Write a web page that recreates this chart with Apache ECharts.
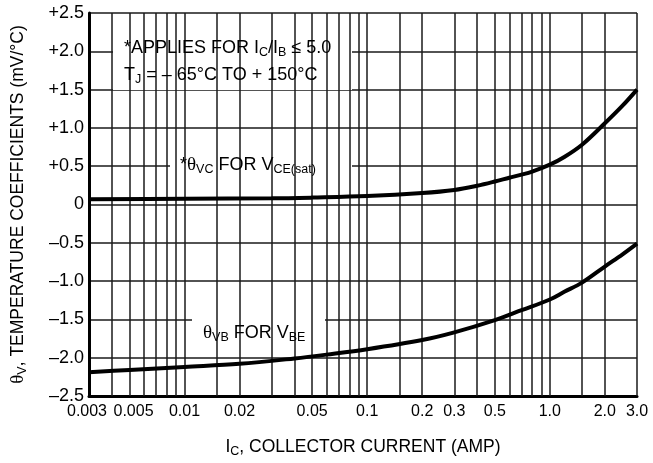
<!DOCTYPE html>
<html>
<head>
<meta charset="utf-8">
<script src="https://cdn.jsdelivr.net/npm/echarts@6/dist/echarts.min.js"></script>
<style>
  html, body { margin: 0; padding: 0; background: #fff; }
  #chart { width: 653px; height: 463px; }
</style>
</head>
<body>
<div id="chart"></div>
<script>
	// collector current (A) and temperature coefficients (mV/°C)
	var icVC = [0.003, 0.01, 0.03, 0.05, 0.1, 0.2, 0.3, 0.4, 0.5, 0.6, 0.7, 0.8, 1.0, 1.2, 1.5, 2.0, 2.5, 3.0];
	var thetaVC = [0.07, 0.075, 0.08, 0.09, 0.11, 0.15, 0.19, 0.245, 0.30, 0.35, 0.39, 0.43, 0.52, 0.62, 0.78, 1.06, 1.29, 1.50];

	var icVB = [0.003, 0.005, 0.01, 0.02, 0.04, 0.06, 0.1, 0.2, 0.3, 0.5, 0.7, 1.0, 1.2, 1.5, 2.0, 2.5, 3.0];
	var thetaVB = [-2.19, -2.16, -2.12, -2.08, -2.01, -1.96, -1.89, -1.77, -1.67, -1.51, -1.38, -1.24, -1.14, -1.02, -0.81, -0.65, -0.51];

	// x tick labels and the vertical grid of the log paper
	var xTickLabels = [0.003, 0.005, 0.01, 0.02, 0.05, 0.1, 0.2, 0.3, 0.5, 1.0, 2.0, 3.0];
	var xGridLines = [0.004, 0.005, 0.006, 0.007, 0.008, 0.009,
		0.01, 0.015, 0.02, 0.03, 0.04, 0.05, 0.06, 0.07, 0.08, 0.09,
		0.1, 0.15, 0.2, 0.3, 0.4, 0.5, 0.6, 0.7, 0.8, 0.9,
		1.0, 1.5, 2.0, 3.0];

	var FONT = '"Liberation Sans", Arial, sans-serif';
	var SERIF = '"Liberation Serif", "DejaVu Serif", serif';
	var GRID_COLOR = '#1a1a1a';

	function pairs(xs, ys) {
		var out = [];
		for (var i = 0; i < xs.length; i++) {
			out.push([xs[i], ys[i]]);
		}
		return out;
	}

	function xLabel(v) {
		var n = Number(v.toPrecision(3));
		var s = n >= 1 ? n.toFixed(1) : String(n);
		// the first two labels sit close together, push them apart a little
		if (n === 0.003) return '{l|' + s + '}';
		if (n === 0.005) return '{r|' + s + '}';
		return s;
	}

	function yLabel(v) {
		if (Math.abs(v) < 1e-9) return '0';
		return (v > 0 ? '+' : '\u2013') + Math.abs(v).toFixed(1);
	}

	var richCommon = {
		th: { fontFamily: SERIF, fontSize: 19, lineHeight: 22, color: '#000' },
		s: { fontFamily: FONT, fontSize: 12.5, lineHeight: 11, verticalAlign: 'bottom', color: '#000' }
	};

	var chart = echarts.init(document.getElementById('chart'), null, { renderer: 'canvas' });

	var option = {
		animation: false,
		backgroundColor: '#fff',
		grid: { left: 89, right: 16, top: 13, bottom: 67, containLabel: false, outerBoundsMode: 'none' },
		xAxis: {
			type: 'log',
			logBase: 10,
			min: 0.003,
			max: 3,
			axisLine: { show: true, onZero: false, lineStyle: { color: '#000', width: 3 } },
			axisTick: { show: false },
			splitLine: { show: false },
			axisLabel: {
				customValues: xTickLabels,
				formatter: xLabel,
				showMinLabel: true,
				showMaxLabel: true,
				hideOverlap: false,
				color: '#000',
				fontFamily: FONT,
				fontSize: 16,
				margin: 8,
				rich: {
					l: { fontFamily: FONT, fontSize: 16, color: '#000', padding: [0, 4, 0, 0] },
					r: { fontFamily: FONT, fontSize: 16, color: '#000', padding: [0, 0, 0, 8] }
				}
			},
			name: 'I{s|C}, COLLECTOR CURRENT (AMP)',
			nameLocation: 'middle',
			nameGap: 40,
			nameTextStyle: {
				color: '#000', fontFamily: FONT, fontSize: 17.5, lineHeight: 22,
				rich: richCommon
			}
		},
		yAxis: {
			type: 'value',
			min: -2.5,
			max: 2.5,
			interval: 0.5,
			axisLine: { show: true, onZero: false, lineStyle: { color: '#000', width: 3 } },
			axisTick: { show: false },
			splitLine: { show: true, lineStyle: { color: GRID_COLOR, width: 1.5 } },
			axisLabel: {
				formatter: yLabel,
				showMinLabel: true,
				showMaxLabel: true,
				color: '#000',
				fontFamily: FONT,
				fontSize: 18,
				margin: 5
			},
			name: '{th|\u03b8}{s|V}, TEMPERATURE COEFFICIENTS (mV/\u00b0C)',
			nameLocation: 'middle',
			nameRotate: 90,
			nameGap: 60,
			nameTextStyle: {
				color: '#000', fontFamily: FONT, fontSize: 17.5, lineHeight: 22,
				rich: richCommon
			}
		},
		series: [
			{
				// vertical lines of the log grid
				type: 'line',
				data: [],
				z: 1,
				silent: true,
				markLine: {
					silent: true,
					precision: 4,
					symbol: ['none', 'none'],
					label: { show: false },
					lineStyle: { color: GRID_COLOR, width: 1.5, type: 'solid' },
					emphasis: { disabled: true },
					data: xGridLines.map(function (v) { return { xAxis: v }; })
				}
			},
			{
				name: 'thetaVC',
				type: 'line',
				data: pairs(icVC, thetaVC),
				smooth: 0.35,
				showSymbol: false,
				z: 10,
				lineStyle: { color: '#000', width: 4 }
			},
			{
				name: 'thetaVB',
				type: 'line',
				data: pairs(icVB, thetaVB),
				smooth: 0.35,
				showSymbol: false,
				z: 10,
				lineStyle: { color: '#000', width: 4 }
			}
		],
		graphic: [
			// white patches behind the annotations
			{ type: 'rect', z: 5, shape: { x: 113, y: 26, width: 239, height: 64 }, style: { fill: '#fff' } },
			{ type: 'rect', z: 5, shape: { x: 170, y: 145, width: 182, height: 37 }, style: { fill: '#fff' } },
			{ type: 'rect', z: 5, shape: { x: 192, y: 313, width: 133, height: 39 }, style: { fill: '#fff' } },
			{
				type: 'text', z: 20, x: 124, y: 48,
				style: {
					text: '*APPLIES FOR I{s|C}/I{s|B} \u2264 5.0',
					fontFamily: FONT, fontSize: 18, lineHeight: 22, fill: '#000',
					verticalAlign: 'middle', rich: richCommon
				}
			},
			{
				type: 'text', z: 20, x: 124, y: 75,
				style: {
					text: 'T{s|J} = \u2013 65\u00b0C TO + 150\u00b0C',
					fontFamily: FONT, fontSize: 18, lineHeight: 22, fill: '#000',
					verticalAlign: 'middle', rich: richCommon
				}
			},
			{
				type: 'text', z: 20, x: 180, y: 165,
				style: {
					text: '*{th|\u03b8}{s|VC} FOR V{s|CE(sat)}',
					fontFamily: FONT, fontSize: 18, lineHeight: 22, fill: '#000',
					verticalAlign: 'middle', rich: richCommon
				}
			},
			{
				type: 'text', z: 20, x: 203, y: 333,
				style: {
					text: '{th|\u03b8}{s|VB} FOR V{s|BE}',
					fontFamily: FONT, fontSize: 18, lineHeight: 22, fill: '#000',
					verticalAlign: 'middle', rich: richCommon
				}
			}
		]
	};

	chart.setOption(option);
</script>
</body>
</html>
